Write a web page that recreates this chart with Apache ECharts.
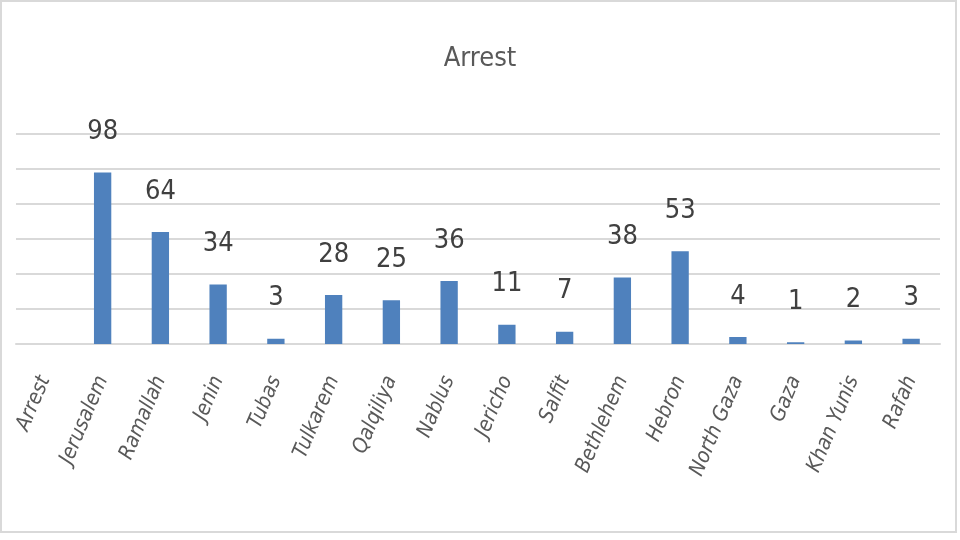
<!DOCTYPE html>
<html>
<head>
<meta charset="utf-8">
<script src="https://cdn.jsdelivr.net/npm/echarts@6/dist/echarts.min.js"></script>
<style>
html,body{margin:0;padding:0;background:#fff;}
#chart{width:960px;height:540px;}
</style>
</head>
<body>
<div id="chart"></div>
<script>
const chartTitle = 'Arrest';
const categories = ['Arrest','Jerusalem','Ramallah','Jenin','Tubas','Tulkarem','Qalqiliya','Nablus','Jericho','Salfit','Bethlehem','Hebron','North Gaza','Gaza','Khan Yunis','Rafah'];
const arrests = [null, 98, 64, 34, 3, 28, 25, 36, 11, 7, 38, 53, 4, 1, 2, 3];

const narrow = "'Liberation Sans Narrow', 'DejaVu Sans Condensed', 'Liberation Sans', sans-serif";
const chart = echarts.init(document.getElementById('chart'));
chart.setOption({
  backgroundColor: '#ffffff',
  animation: false,
  title: {
    text: chartTitle,
    left: 'center',
    top: 40,
    textStyle: { fontFamily: narrow, fontSize: 27, fontWeight: 'normal', color: '#595959' }
  },
  graphic: [{
    type: 'rect',
    shape: { x: 1, y: 1, width: 955, height: 531 },
    style: { fill: 'none', stroke: '#d9d9d9', lineWidth: 2 },
    silent: true
  }],
  grid: { left: 16, right: 20, top: 134, bottom: 196, containLabel: false },
  xAxis: {
    type: 'category',
    data: categories,
    axisLine: { show: true, lineStyle: { color: '#d9d9d9', width: 2 } },
    axisTick: { show: false },
    axisLabel: {
      interval: 0,
      rotate: 67,
      margin: 33,
      fontFamily: narrow,
      fontStyle: 'italic',
      fontSize: 21,
      color: '#595959'
    }
  },
  yAxis: {
    type: 'value',
    min: 0,
    max: 120,
    interval: 20,
    axisLabel: { show: false },
    axisLine: { show: false },
    axisTick: { show: false },
    splitLine: { lineStyle: { color: '#d9d9d9', width: 2 } }
  },
  series: [{
    type: 'bar',
    data: arrests,
    barWidth: '30%',
    itemStyle: { color: '#4f81bd' },
    label: {
      show: true,
      position: 'top',
      distance: 27,
      fontFamily: narrow,
      fontSize: 27,
      color: '#404040'
    }
  }]
});
</script>
</body>
</html>
